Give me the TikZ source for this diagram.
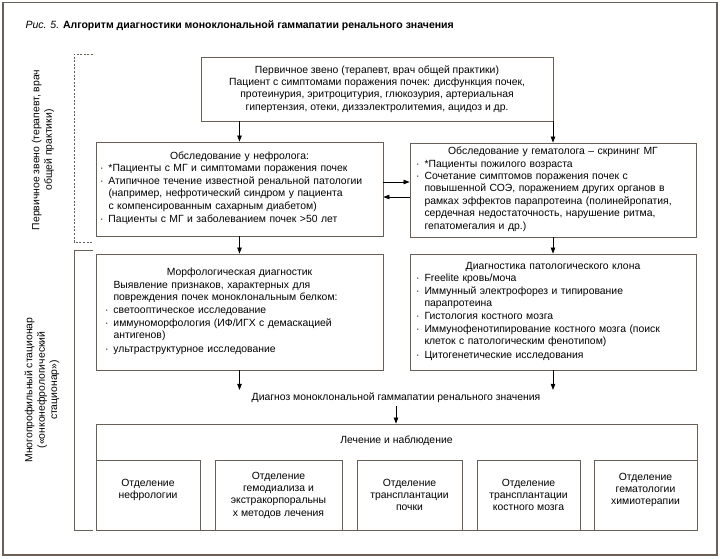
\documentclass[tikz,border=0pt]{standalone}
\usepackage{fontspec}
\setmainfont{Liberation Sans}
\usetikzlibrary{positioning,arrows.meta}

\definecolor{frm}{RGB}{104,96,86}
\newcommand\txt{\fontsize{10.4}{12.4}\selectfont}
\newcommand\bul[1]{\par\noindent\makebox[8.5pt][l]{\textperiodcentered}%
  \parbox[t]{\dimexpr\hsize-8.5pt\relax}{\raggedright\strut #1\strut}}
\newcommand\ind[1]{\par\noindent\hspace*{8.5pt}%
  \parbox[t]{\dimexpr\hsize-8.5pt\relax}{\raggedright\strut #1\strut}}

\tikzset{
  box/.style={draw=frm, line width=0.9pt, inner ysep=4pt, align=left, font=\txt},
  dept/.style={draw=frm, line width=0.9pt, align=center, font=\txt, minimum height=70pt},
  arr/.style={-{Triangle[length=6pt,width=4.5pt]}, line width=0.6pt},
}

\begin{document}
\begin{tikzpicture}[x=1pt,y=-1pt]
\useasboundingbox (0,0) rectangle (720,558);
\draw[frm, line width=1.6pt] (3,2.5) rectangle (717,555);

\def\xl{239.5};
\def\xr{553};

\node[anchor=base west, font=\fontsize{10.5}{12}\selectfont] (ttl) at (22,28)
  {\textit{Рис. 5.} \textbf{Алгоритм диагностики моноклональной гаммапатии ренального значения}};

\node[box, align=center, minimum width=352pt, minimum height=64pt] (top) at (377,89)
  {Первичное звено (терапевт, врач общей практики)\\
   Пациент с симптомами поражения почек: дисфункция почек,\\
   протеинурия, эритроцитурия, глюкозурия, артериальная\\
   гипертензия, отеки, диззэлектролитемия, ацидоз и др.};

\node[box, inner xsep=4pt, text width=279pt, minimum height=94pt] (lm) at (\xl,189)
  {{\centering Обследование у нефролога:\par}
   \bul{*Пациенты с МГ и симптомами поражения почек}
   \bul{Атипичное течение известной ренальной патологии\newline
        (например, нефротический синдром у пациента\newline
        с компенсированным сахарным диабетом)}
   \bul{Пациенты с МГ и заболеванием почек >50 лет}};

\node[box, inner xsep=6pt, text width=274pt, minimum height=94pt] (rm) at (\xr,190)
  {{\centering Обследование у гематолога – скрининг МГ\par}
   \bul{*Пациенты пожилого возраста}
   \bul{Сочетание симптомов поражения почек с\newline
        повышенной СОЭ, поражением других органов в\newline
        рамках эффектов парапротеина (полинейропатия,\newline
        сердечная недостаточность, нарушение ритма,\newline
        гепатомегалия и др.)}};

\node[box, inner xsep=9pt, text width=269pt, minimum height=116pt] (ll) at (\xl,312)
  {{\centering Морфологическая диагностик\par}
   \ind{Выявление признаков, характерных для\newline
        повреждения почек моноклональным белком:}
   \bul{светооптическое исследование}
   \bul{иммуноморфология (ИФ/ИГХ с демаскацией\newline антигенов)}
   \bul{ультраструктурное исследование}};

\node[box, inner xsep=6pt, text width=274pt, minimum height=116pt] (lr) at (\xr,312)
  {{\centering Диагностика патологического клона\par}
   \bul{Freelite кровь/моча}
   \bul{Иммунный электрофорез и типирование\newline парапротеина}
   \bul{Гистология костного мозга}
   \bul{Иммунофенотипирование костного мозга (поиск\newline
        клеток с патологическим фенотипом)}
   \bul{Цитогенетические исследования}};

\node[font=\txt, inner sep=3pt] (diag) at (396,398)
  {Диагноз моноклональной гаммапатии ренального значения};

\node[draw=frm, line width=0.9pt, minimum width=601pt, minimum height=106pt] (treat) at (396.5,477) {};
\node[font=\txt, below=9pt of treat.north] (tl) {Лечение и наблюдение};

\node[dept, minimum width=104pt] (d1) at (148,495) {Отделение\\нефрологии\\\mbox{}};
\node[dept, minimum width=127pt] (d2) at (278.5,495)
  {Отделение\\гемодиализа и\\экстракорпоральны\\х методов лечения};
\node[dept, minimum width=105pt] (d3) at (409.5,495) {Отделение\\трансплантации\\почки};
\node[dept, minimum width=103pt] (d4) at (528.5,495) {Отделение\\трансплантации\\костного мозга};
\node[dept, minimum width=103pt] (d5) at (645.5,495) {Отделение\\гематологии\\химиотерапии\\\mbox{}};

\node[rotate=90, align=center, font=\txt] (s1) at (43,150)
  {Первичное звено (терапевт, врач\\общей практики)};
\node[rotate=90, align=center, font=\txt] (s2) at (42,390)
  {Многопрофильный стационар\\(«онконефрологический\\стационар»)};

\draw[frm, line width=0.8pt, dash pattern=on 2pt off 1.6pt] (93,54) -- (74,54) -- (74,242) -- (93,242);
\draw[frm, line width=0.9pt] (93,250) -- (74,250) -- (74,530) -- (93,530);

\draw[arr] (top.south -| lm.north) -- (lm.north);
\draw[arr] (top.south -| rm.north) -- (rm.north);
\draw[arr] ([yshift=7pt]lm.east) -- ([yshift=7pt]lm.east -| rm.west);
\draw[arr] ([yshift=-8pt]lm.east -| rm.west) -- ([yshift=-8pt]lm.east);
\draw[arr] (lm.south) -- (ll.north);
\draw[arr] (rm.south) -- (lr.north);
\draw[arr] (ll.south) -- (ll.south |- diag.north);
\draw[arr] (lr.south) -- (lr.south |- diag.north);
\draw[arr] (diag.south) -- (treat.north -| diag.south);

\end{tikzpicture}
\end{document}
